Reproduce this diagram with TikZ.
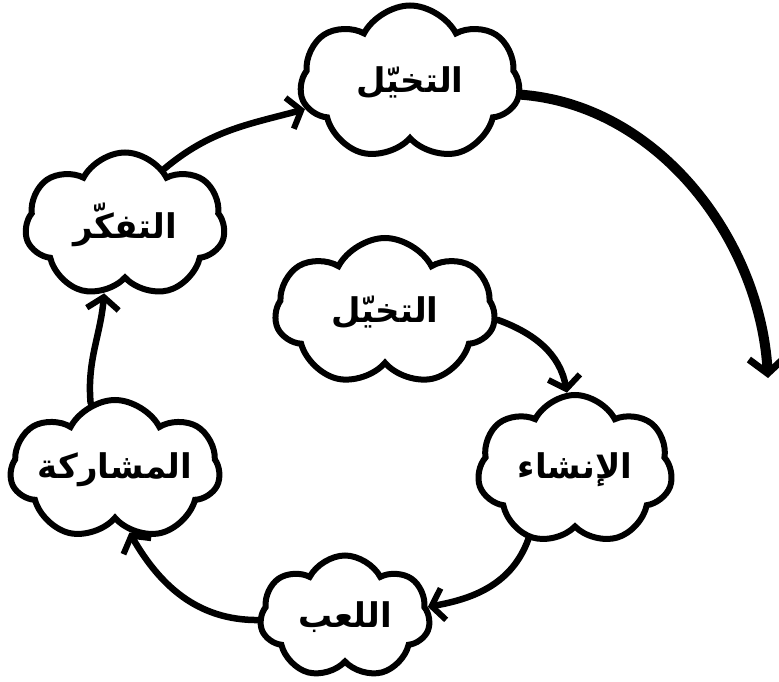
\documentclass[tikz,border=0pt]{standalone}
\usepackage{fontspec}
\newfontfamily\arabicfont[Script=Arabic]{DejaVu Sans}
\TeXXeTstate=1
\usetikzlibrary{shapes.symbols,arrows.meta}
\begin{document}
\begin{tikzpicture}[x=1pt,y=1pt,
  cloudbox/.style={cloud, cloud puffs=7, cloud puff arc=125, cloud ignores aspect, draw=black, line width=6pt, fill=white, inner sep=0pt, font=\arabicfont\bfseries\fontsize{34}{36}\selectfont},
  conn/.style={line width=6.5pt, -{Straight Barb[length=12pt,width=32pt,line width=6pt]}, line cap=round, line join=round},
  bigconn/.style={line width=10pt, -{Straight Barb[length=15pt,width=36pt,line width=7pt]}, line cap=round, line join=round}]
\useasboundingbox (0,0) rectangle (779,681);
% clouds
\node[cloudbox, minimum width=220pt, minimum height=155pt] (top) at (410,598) {\beginR التخيّل\endR};
\node[cloudbox, minimum width=200pt, minimum height=145pt] (think) at (125,456) {\beginR التفكّر\endR};
\node[cloudbox, minimum width=220pt, minimum height=148pt] (center) at (385,369) {\beginR التخيّل\endR};
\node[cloudbox, minimum width=195pt, minimum height=150pt] (create) at (575,211) {\beginR الإنشاء\endR};
\node[cloudbox, minimum width=200pt, minimum height=140pt] (share) at (115,211) {\beginR المشاركة\endR};
\node[cloudbox, minimum width=170pt, minimum height=123pt] (play) at (345,64) {\beginR اللعب\endR};
\coordinate (bigend) at (768,303);
% connectors
\draw[bigconn] (top.-6) .. controls (660,575) and (760,440) .. (bigend);
\draw[conn] (think.55) to[out=40,in=195] (top.194);
\draw[conn] (share.110) to[out=95,in=265] (think.253);
\draw[conn] (play.182) to[out=180,in=-60] (share.-77);
\draw[conn] (create.236) to[out=-110,in=10] (play.7);
\draw[conn] (center.-4) to[out=-20,in=100] (create.96);
\end{tikzpicture}
\end{document}
